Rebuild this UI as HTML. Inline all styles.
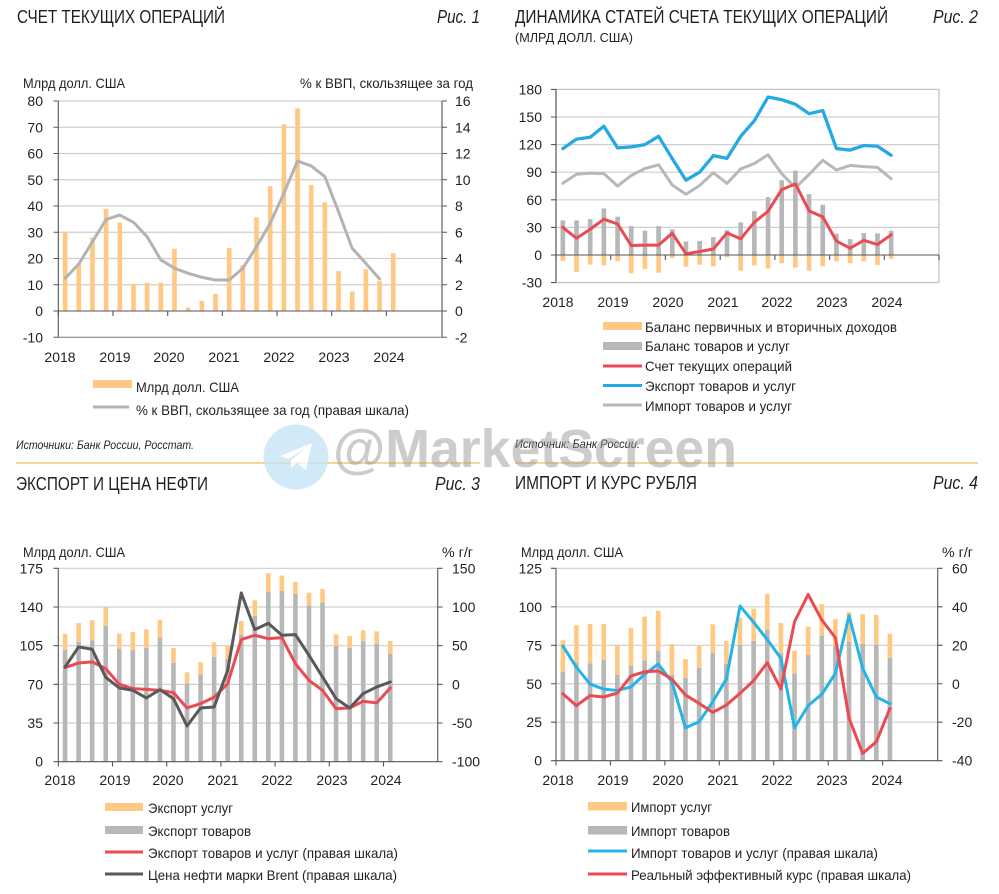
<!DOCTYPE html>
<html><head><meta charset="utf-8"><style>
html,body{margin:0;padding:0;background:#fff;}
svg{display:block;}
text{font-family:"Liberation Sans","Noto Sans CJK SC",sans-serif;fill:#231f20;}
.t{font-size:14px;}
.tt{font-family:"Liberation Sans Narrow","Liberation Sans",sans-serif;font-size:18px;}
.it{font-style:italic;}
.g{stroke:#cfcfcf;stroke-width:1.2;}
.ax{stroke:#555;stroke-width:1.1;fill:none;}
.ob{fill:#ffc983;}
.gb{fill:#b7b7b8;}
.ln{fill:none;stroke-linejoin:round;stroke-linecap:round;}
</style></head><body>
<svg width="999" height="894" viewBox="0 0 999 894" xmlns="http://www.w3.org/2000/svg">
<rect width="999" height="894" fill="#fff"/>

<!-- ================= TITLES ================= -->
<text class="tt" x="17" y="23" textLength="208" lengthAdjust="spacingAndGlyphs">СЧЕТ ТЕКУЩИХ ОПЕРАЦИЙ</text>
<text class="tt it" x="437" y="23" textLength="43" lengthAdjust="spacingAndGlyphs">Рис. 1</text>
<text class="tt" x="515" y="23" textLength="373" lengthAdjust="spacingAndGlyphs">ДИНАМИКА СТАТЕЙ СЧЕТА ТЕКУЩИХ ОПЕРАЦИЙ</text>
<text class="tt it" x="933" y="23" textLength="45" lengthAdjust="spacingAndGlyphs">Рис. 2</text>
<text x="515" y="42" style="font-family:'Liberation Sans Narrow','Liberation Sans',sans-serif;font-size:13px" textLength="118" lengthAdjust="spacingAndGlyphs">(МЛРД ДОЛЛ. США)</text>
<text class="tt" x="16" y="490" textLength="192" lengthAdjust="spacingAndGlyphs">ЭКСПОРТ И ЦЕНА НЕФТИ</text>
<text class="tt it" x="435" y="490" textLength="45" lengthAdjust="spacingAndGlyphs">Рис. 3</text>
<text class="tt" x="515" y="489" textLength="182" lengthAdjust="spacingAndGlyphs">ИМПОРТ И КУРС РУБЛЯ</text>
<text class="tt it" x="933" y="489" textLength="45" lengthAdjust="spacingAndGlyphs">Рис. 4</text>

<!-- sources & separators -->
<text class="it" x="16" y="449" style="font-size:11.5px" textLength="178" lengthAdjust="spacingAndGlyphs">Источники: Банк России, Росстат.</text>
<text class="it" x="515" y="448" style="font-size:11.5px" textLength="125" lengthAdjust="spacingAndGlyphs">Источник: Банк России.</text>
<line x1="16" y1="463" x2="480" y2="463" stroke="#f7c77a" stroke-width="1.5"/>
<line x1="515" y1="463" x2="978" y2="463" stroke="#f7c77a" stroke-width="1.5"/>

<!-- ================= CHART 1 ================= -->
<text class="t" x="23" y="88" textLength="102" lengthAdjust="spacingAndGlyphs">Млрд долл. США</text>
<text class="t" x="300" y="88" textLength="173" lengthAdjust="spacingAndGlyphs">% к ВВП, скользящее за год</text>
<g class="g">
<line x1="58.3" y1="101" x2="442" y2="101"/><line x1="58.3" y1="127.25" x2="442" y2="127.25"/>
<line x1="58.3" y1="153.5" x2="442" y2="153.5"/><line x1="58.3" y1="179.75" x2="442" y2="179.75"/>
<line x1="58.3" y1="206" x2="442" y2="206"/><line x1="58.3" y1="232.25" x2="442" y2="232.25"/>
<line x1="58.3" y1="258.5" x2="442" y2="258.5"/><line x1="58.3" y1="284.75" x2="442" y2="284.75"/>
</g>
<g transform="translate(58.3 311) scale(13.67 -2.625)" class="ob">
<rect x="0.33" y="0" width="0.34" height="30"/><rect x="1.33" y="0" width="0.34" height="18.2"/>
<rect x="2.33" y="0" width="0.34" height="28"/><rect x="3.33" y="0" width="0.34" height="38.9"/>
<rect x="4.33" y="0" width="0.34" height="33.7"/><rect x="5.33" y="0" width="0.34" height="10.3"/>
<rect x="6.33" y="0" width="0.34" height="10.8"/><rect x="7.33" y="0" width="0.34" height="10.8"/>
<rect x="8.33" y="0" width="0.34" height="23.7"/><rect x="9.33" y="0" width="0.34" height="1.3"/>
<rect x="10.33" y="0" width="0.34" height="3.8"/><rect x="11.33" y="0" width="0.34" height="6.5"/>
<rect x="12.33" y="0" width="0.34" height="24"/><rect x="13.33" y="0" width="0.34" height="17.5"/>
<rect x="14.33" y="0" width="0.34" height="35.7"/><rect x="15.33" y="0" width="0.34" height="47.5"/>
<rect x="16.33" y="0" width="0.34" height="71.1"/><rect x="17.33" y="0" width="0.34" height="77.2"/>
<rect x="18.33" y="0" width="0.34" height="48"/><rect x="19.33" y="0" width="0.34" height="41.4"/>
<rect x="20.33" y="0" width="0.34" height="15.2"/><rect x="21.33" y="0" width="0.34" height="7.4"/>
<rect x="22.33" y="0" width="0.34" height="15.9"/><rect x="23.33" y="0" width="0.34" height="11.4"/>
<rect x="24.33" y="0" width="0.34" height="22"/>
</g>
<g transform="translate(58.3 311) scale(13.67 -13.125)">
<polyline class="ln" vector-effect="non-scaling-stroke" stroke="#b3b3b3" stroke-width="3" points="0.5,2.49 1.5,3.58 2.5,5.28 3.5,6.98 4.5,7.31 5.5,6.76 6.5,5.66 7.5,3.89 8.5,3.26 9.5,2.87 10.5,2.57 11.5,2.36 12.5,2.36 13.5,3.26 14.5,4.9 15.5,6.68 16.5,8.97 17.5,11.43 18.5,11.05 19.5,10.23 20.5,7.57 21.5,4.77 22.5,3.63 23.5,2.44"/>
</g>
<g class="ax">
<line x1="58.3" y1="101" x2="58.3" y2="337.25"/><line x1="442" y1="101" x2="442" y2="337.25"/>
<line x1="58.3" y1="311" x2="442" y2="311"/><line x1="58.3" y1="337.25" x2="442" y2="337.25" stroke="#777"/>
<path d="M53.5 101H58.3M53.5 127.25H58.3M53.5 153.5H58.3M53.5 179.75H58.3M53.5 206H58.3M53.5 232.25H58.3M53.5 258.5H58.3M53.5 284.75H58.3M53.5 311H58.3M53.5 337.25H58.3"/>
<path d="M442 101H447M442 127.25H447M442 153.5H447M442 179.75H447M442 206H447M442 232.25H447M442 258.5H447M442 284.75H447M442 311H447M442 337.25H447"/>
<path d="M58.3 311V316M113 311V316M167.7 311V316M222.3 311V316M277 311V316M331.7 311V316M386.4 311V316"/>
</g>
<g class="t" text-anchor="end">
<text x="43" y="106">80</text><text x="43" y="132.25">70</text><text x="43" y="158.5">60</text>
<text x="43" y="184.75">50</text><text x="43" y="211">40</text><text x="43" y="237.25">30</text>
<text x="43" y="263.5">20</text><text x="43" y="289.75">10</text><text x="43" y="316">0</text>
<text x="43" y="342.25">-10</text>
</g>
<g class="t">
<text x="455" y="106">16</text><text x="455" y="132.25">14</text><text x="455" y="158.5">12</text>
<text x="455" y="184.75">10</text><text x="455" y="211">8</text><text x="455" y="237.25">6</text>
<text x="455" y="263.5">4</text><text x="455" y="289.75">2</text><text x="455" y="316">0</text>
<text x="455" y="342.25">-2</text>
</g>
<g class="t" text-anchor="middle">
<text x="60" y="362">2018</text><text x="115" y="362">2019</text><text x="169" y="362">2020</text>
<text x="224" y="362">2021</text><text x="279" y="362">2022</text><text x="334" y="362">2023</text>
<text x="389" y="362">2024</text>
</g>
<rect x="93" y="380" width="39" height="8" class="ob"/>
<line x1="93" y1="407" x2="129" y2="407" stroke="#b3b3b3" stroke-width="3"/>
<text class="t" x="136" y="392" textLength="103" lengthAdjust="spacingAndGlyphs">Млрд долл. США</text>
<text class="t" x="136" y="415" textLength="273" lengthAdjust="spacingAndGlyphs">% к ВВП, скользящее за год (правая шкала)</text>

<!-- ================= CHART 2 ================= -->
<g class="g">
<line x1="556" y1="117" x2="939" y2="117"/><line x1="556" y1="144.6" x2="939" y2="144.6"/>
<line x1="556" y1="172.2" x2="939" y2="172.2"/><line x1="556" y1="199.8" x2="939" y2="199.8"/>
<line x1="556" y1="227.4" x2="939" y2="227.4"/>
</g>
<rect x="556" y="89.4" width="383" height="193.2" fill="none" stroke="#c4c4c4" stroke-width="1.3"/>
<g transform="translate(556 255) scale(13.68 -0.92)">
<g class="gb">
<rect x="0.33" y="0" width="0.34" height="37.6"/><rect x="1.33" y="0" width="0.34" height="37.6"/>
<rect x="2.33" y="0" width="0.34" height="39"/><rect x="3.33" y="0" width="0.34" height="50.6"/>
<rect x="4.33" y="0" width="0.34" height="41.6"/><rect x="5.33" y="0" width="0.34" height="31.4"/>
<rect x="6.33" y="0" width="0.34" height="26.4"/><rect x="7.33" y="0" width="0.34" height="31.4"/>
<rect x="8.33" y="0" width="0.34" height="27.8"/><rect x="9.33" y="0" width="0.34" height="14.8"/>
<rect x="10.33" y="0" width="0.34" height="15.2"/><rect x="11.33" y="0" width="0.34" height="19.5"/>
<rect x="12.33" y="0" width="0.34" height="27"/><rect x="13.33" y="0" width="0.34" height="35.4"/>
<rect x="14.33" y="0" width="0.34" height="47.7"/><rect x="15.33" y="0" width="0.34" height="62.9"/>
<rect x="16.33" y="0" width="0.34" height="81.3"/><rect x="17.33" y="0" width="0.34" height="91.8"/>
<rect x="18.33" y="0" width="0.34" height="66.1"/><rect x="19.33" y="0" width="0.34" height="54.6"/>
<rect x="20.33" y="0" width="0.34" height="23"/><rect x="21.33" y="0" width="0.34" height="17.3"/>
<rect x="22.33" y="0" width="0.34" height="23.9"/><rect x="23.33" y="0" width="0.34" height="23.5"/>
<rect x="24.33" y="0" width="0.34" height="26.4"/>
</g>
<g class="ob">
<rect x="0.33" y="-6.5" width="0.34" height="6.5"/><rect x="1.33" y="-18.4" width="0.34" height="18.4"/>
<rect x="2.33" y="-10.5" width="0.34" height="10.5"/><rect x="3.33" y="-11.2" width="0.34" height="11.2"/>
<rect x="4.33" y="-6.9" width="0.34" height="6.9"/><rect x="5.33" y="-19.9" width="0.34" height="19.9"/>
<rect x="6.33" y="-15.2" width="0.34" height="15.2"/><rect x="7.33" y="-19.2" width="0.34" height="19.2"/>
<rect x="8.33" y="-3.3" width="0.34" height="3.3"/><rect x="9.33" y="-12.6" width="0.34" height="12.6"/>
<rect x="10.33" y="-10.5" width="0.34" height="10.5"/><rect x="11.33" y="-12.3" width="0.34" height="12.3"/>
<rect x="12.33" y="-2.5" width="0.34" height="2.5"/><rect x="13.33" y="-17" width="0.34" height="17"/>
<rect x="14.33" y="-11.2" width="0.34" height="11.2"/><rect x="15.33" y="-14.8" width="0.34" height="14.8"/>
<rect x="16.33" y="-9" width="0.34" height="9"/><rect x="17.33" y="-13.7" width="0.34" height="13.7"/>
<rect x="18.33" y="-17" width="0.34" height="17"/><rect x="19.33" y="-12.3" width="0.34" height="12.3"/>
<rect x="20.33" y="-6.9" width="0.34" height="6.9"/><rect x="21.33" y="-9" width="0.34" height="9"/>
<rect x="22.33" y="-6.9" width="0.34" height="6.9"/><rect x="23.33" y="-10.8" width="0.34" height="10.8"/>
<rect x="24.33" y="-4.3" width="0.34" height="4.3"/>
</g>
<polyline class="ln" vector-effect="non-scaling-stroke" stroke="#b8b8b8" stroke-width="3" points="0.5,78 1.5,87.8 2.5,89 3.5,88.4 4.5,75 5.5,86.4 6.5,94 7.5,98 8.5,76 9.5,66 10.5,75.6 11.5,89.4 12.5,77.8 13.5,93.6 14.5,99.4 15.5,109 16.5,88.4 17.5,73.2 18.5,87.5 19.5,103 20.5,92.4 21.5,97.4 22.5,96 23.5,95.2 24.5,82.8"/>
<polyline class="ln" vector-effect="non-scaling-stroke" stroke="#ec4a52" stroke-width="3" points="0.5,30 1.5,18.2 2.5,28 3.5,38.9 4.5,33.7 5.5,10.3 6.5,10.8 7.5,10.8 8.5,23.7 9.5,1.3 10.5,3.8 11.5,6.5 12.5,24 13.5,17.5 14.5,35.7 15.5,47.5 16.5,71.1 17.5,77.2 18.5,48 19.5,41.4 20.5,15.2 21.5,7.4 22.5,15.9 23.5,11.4 24.5,22"/>
<polyline class="ln" vector-effect="non-scaling-stroke" stroke="#24aae2" stroke-width="3.3" points="0.5,115.6 1.5,126 2.5,128 3.5,140 4.5,116.4 5.5,117.5 6.5,120 7.5,129 8.5,104.8 9.5,81.3 10.5,90 11.5,108 12.5,105 13.5,129 14.5,146 15.5,171.7 16.5,168.8 17.5,163.8 18.5,153.6 19.5,157 20.5,115.7 21.5,114 22.5,119 23.5,118.2 24.5,108.4"/>
</g>
<g class="ax">
<line x1="556" y1="89.4" x2="556" y2="282.6"/>
<line x1="556" y1="255" x2="939" y2="255"/>
<path d="M551 89.4H556M551 117H556M551 144.6H556M551 172.2H556M551 199.8H556M551 227.4H556M551 255H556M551 282.6H556"/>
<path d="M556 255V260M610.7 255V260M665.4 255V260M720.2 255V260M774.9 255V260M829.6 255V260M884.3 255V260M939 255V260"/>
</g>
<g class="t" text-anchor="end">
<text x="542" y="94.4">180</text><text x="542" y="122">150</text><text x="542" y="149.6">120</text>
<text x="542" y="177.2">90</text><text x="542" y="204.8">60</text><text x="542" y="232.4">30</text>
<text x="542" y="260">0</text><text x="542" y="287.6">-30</text>
</g>
<g class="t" text-anchor="middle">
<text x="558" y="307">2018</text><text x="613" y="307">2019</text><text x="668" y="307">2020</text>
<text x="723" y="307">2021</text><text x="777" y="307">2022</text><text x="832" y="307">2023</text>
<text x="887" y="307">2024</text>
</g>
<rect x="603" y="322" width="39" height="8" class="ob"/>
<rect x="603" y="342" width="39" height="8" class="gb"/>
<line x1="603" y1="366" x2="642" y2="366" stroke="#ec4a52" stroke-width="3"/>
<line x1="603" y1="385.5" x2="642" y2="385.5" stroke="#24aae2" stroke-width="3"/>
<line x1="603" y1="405" x2="642" y2="405" stroke="#b8b8b8" stroke-width="3"/>
<text class="t" x="645" y="332" textLength="252" lengthAdjust="spacingAndGlyphs">Баланс первичных и вторичных доходов</text>
<text class="t" x="645" y="351" textLength="145" lengthAdjust="spacingAndGlyphs">Баланс товаров и услуг</text>
<text class="t" x="645" y="371" textLength="147" lengthAdjust="spacingAndGlyphs">Счет текущих операций</text>
<text class="t" x="645" y="391" textLength="151" lengthAdjust="spacingAndGlyphs">Экспорт товаров и услуг</text>
<text class="t" x="645" y="411" textLength="147" lengthAdjust="spacingAndGlyphs">Импорт товаров и услуг</text>

<!-- ================= CHART 3 ================= -->
<text class="t" x="23" y="557" textLength="102" lengthAdjust="spacingAndGlyphs">Млрд долл. США</text>
<text class="t" x="442" y="557" textLength="31" lengthAdjust="spacingAndGlyphs">% г/г</text>
<g class="g">
<line x1="58.3" y1="568.3" x2="437.7" y2="568.3"/><line x1="58.3" y1="607" x2="437.7" y2="607"/>
<line x1="58.3" y1="645.7" x2="437.7" y2="645.7"/><line x1="58.3" y1="684.35" x2="437.7" y2="684.35"/>
<line x1="58.3" y1="723" x2="437.7" y2="723"/>
</g>
<g transform="translate(58.3 761.7) scale(13.55 -1.105)">
<g class="gb">
<rect x="0.33" y="0" width="0.34" height="101"/><rect x="1.33" y="0" width="0.34" height="108.6"/>
<rect x="2.33" y="0" width="0.34" height="110"/><rect x="3.33" y="0" width="0.34" height="123"/>
<rect x="4.33" y="0" width="0.34" height="102"/><rect x="5.33" y="0" width="0.34" height="101"/>
<rect x="6.33" y="0" width="0.34" height="103"/><rect x="7.33" y="0" width="0.34" height="112.3"/>
<rect x="8.33" y="0" width="0.34" height="89.6"/><rect x="9.33" y="0" width="0.34" height="70.6"/>
<rect x="10.33" y="0" width="0.34" height="78.8"/><rect x="11.33" y="0" width="0.34" height="94.8"/>
<rect x="12.33" y="0" width="0.34" height="93"/><rect x="13.33" y="0" width="0.34" height="115"/>
<rect x="14.33" y="0" width="0.34" height="132"/><rect x="15.33" y="0" width="0.34" height="153.6"/>
<rect x="16.33" y="0" width="0.34" height="154.5"/><rect x="17.33" y="0" width="0.34" height="151.8"/>
<rect x="18.33" y="0" width="0.34" height="141.5"/><rect x="19.33" y="0" width="0.34" height="144"/>
<rect x="20.33" y="0" width="0.34" height="105"/><rect x="21.33" y="0" width="0.34" height="103"/>
<rect x="22.33" y="0" width="0.34" height="109"/><rect x="23.33" y="0" width="0.34" height="106.5"/>
<rect x="24.33" y="0" width="0.34" height="97.8"/>
</g>
<g class="ob">
<rect x="0.33" y="101" width="0.34" height="14.6"/><rect x="1.33" y="108.6" width="0.34" height="16.9"/>
<rect x="2.33" y="110" width="0.34" height="18"/><rect x="3.33" y="123" width="0.34" height="17"/>
<rect x="4.33" y="102" width="0.34" height="14"/><rect x="5.33" y="101" width="0.34" height="16.4"/>
<rect x="6.33" y="103" width="0.34" height="16.8"/><rect x="7.33" y="112.3" width="0.34" height="15.9"/>
<rect x="8.33" y="89.6" width="0.34" height="13.4"/><rect x="9.33" y="70.6" width="0.34" height="10.3"/>
<rect x="10.33" y="78.8" width="0.34" height="11.2"/><rect x="11.33" y="94.8" width="0.34" height="13.2"/>
<rect x="12.33" y="93" width="0.34" height="11.7"/><rect x="13.33" y="115" width="0.34" height="12.3"/>
<rect x="14.33" y="132" width="0.34" height="14"/><rect x="15.33" y="153.6" width="0.34" height="16.9"/>
<rect x="16.33" y="154.5" width="0.34" height="13.9"/><rect x="17.33" y="151.8" width="0.34" height="10.8"/>
<rect x="18.33" y="141.5" width="0.34" height="11.5"/><rect x="19.33" y="144" width="0.34" height="12.3"/>
<rect x="20.33" y="105" width="0.34" height="10.3"/><rect x="21.33" y="103" width="0.34" height="10.8"/>
<rect x="22.33" y="109" width="0.34" height="10"/><rect x="23.33" y="106.5" width="0.34" height="11.5"/>
<rect x="24.33" y="97.8" width="0.34" height="11.4"/>
</g>
</g>
<g transform="translate(58.3 684.3) scale(13.55 -0.7735)">
<polyline class="ln" vector-effect="non-scaling-stroke" stroke="#ec4a52" stroke-width="3" points="0.5,21.6 1.5,27.6 2.5,29 3.5,20.3 4.5,0 5.5,-5.6 6.5,-6.5 7.5,-7.8 8.5,-10.8 9.5,-30.6 10.5,-25 11.5,-16.8 12.5,0.9 13.5,57.8 14.5,63.4 15.5,59 16.5,60.3 17.5,26.7 18.5,5.2 19.5,-7.8 20.5,-31.5 21.5,-30.6 22.5,-22 23.5,-24 24.5,-4.7"/>
<polyline class="ln" vector-effect="non-scaling-stroke" stroke="#595959" stroke-width="3" points="0.5,22.4 1.5,48.3 2.5,45.3 3.5,9 4.5,-4.7 5.5,-7.8 6.5,-17.7 7.5,-6.9 8.5,-18.5 9.5,-53.9 10.5,-30.6 11.5,-29.3 12.5,18.1 13.5,118.1 14.5,70.7 15.5,78.9 16.5,63.4 17.5,64.2 18.5,37.5 19.5,9.5 20.5,-18.5 21.5,-30.6 22.5,-12 23.5,-3.4 24.5,3"/>
</g>
<g class="ax">
<line x1="58.3" y1="568.3" x2="58.3" y2="761.7"/><line x1="437.7" y1="568.3" x2="437.7" y2="761.7"/>
<line x1="58.3" y1="761.7" x2="437.7" y2="761.7"/>
<path d="M53.5 568.3H58.3M53.5 607H58.3M53.5 645.7H58.3M53.5 684.35H58.3M53.5 723H58.3M53.5 761.7H58.3"/>
<path d="M437.7 568.3H442.5M437.7 607H442.5M437.7 645.7H442.5M437.7 684.35H442.5M437.7 723H442.5M437.7 761.7H442.5"/>
<path d="M58.3 761.7V766.5M112.5 761.7V766.5M166.7 761.7V766.5M220.9 761.7V766.5M275.1 761.7V766.5M329.3 761.7V766.5M383.5 761.7V766.5"/>
</g>
<g class="t" text-anchor="end">
<text x="43" y="573.3">175</text><text x="43" y="612">140</text><text x="43" y="650.7">105</text>
<text x="43" y="689.35">70</text><text x="43" y="728">35</text><text x="43" y="766.7">0</text>
</g>
<g class="t">
<text x="452" y="573.3">150</text><text x="452" y="612">100</text><text x="452" y="650.7">50</text>
<text x="452" y="689.35">0</text><text x="452" y="728">-50</text><text x="452" y="766.7">-100</text>
</g>
<g class="t" text-anchor="middle">
<text x="60" y="785">2018</text><text x="115" y="785">2019</text><text x="168" y="785">2020</text>
<text x="223" y="785">2021</text><text x="277" y="785">2022</text><text x="332" y="785">2023</text>
<text x="386" y="785">2024</text>
</g>
<rect x="105" y="803" width="38" height="8" class="ob"/>
<rect x="105" y="826" width="38" height="8" class="gb"/>
<line x1="105" y1="852" x2="143" y2="852" stroke="#ec4a52" stroke-width="3"/>
<line x1="105" y1="874" x2="143" y2="874" stroke="#595959" stroke-width="3"/>
<text class="t" x="148" y="813" textLength="85" lengthAdjust="spacingAndGlyphs">Экспорт услуг</text>
<text class="t" x="148" y="836" textLength="103" lengthAdjust="spacingAndGlyphs">Экспорт товаров</text>
<text class="t" x="148" y="858" textLength="250" lengthAdjust="spacingAndGlyphs">Экспорт товаров и услуг (правая шкала)</text>
<text class="t" x="148" y="880" textLength="249" lengthAdjust="spacingAndGlyphs">Цена нефти марки Brent (правая шкала)</text>

<!-- ================= CHART 4 ================= -->
<text class="t" x="521" y="557" textLength="102" lengthAdjust="spacingAndGlyphs">Млрд долл. США</text>
<text class="t" x="942" y="557" textLength="31" lengthAdjust="spacingAndGlyphs">% г/г</text>
<g class="g">
<line x1="556" y1="568.3" x2="937.7" y2="568.3"/><line x1="556" y1="606.8" x2="937.7" y2="606.8"/>
<line x1="556" y1="645.3" x2="937.7" y2="645.3"/><line x1="556" y1="683.75" x2="937.7" y2="683.75"/>
<line x1="556" y1="722.2" x2="937.7" y2="722.2"/>
</g>
<g transform="translate(556 760.7) scale(13.63 -1.539)">
<g class="gb">
<rect x="0.33" y="0" width="0.34" height="57.8"/><rect x="1.33" y="0" width="0.34" height="63.7"/>
<rect x="2.33" y="0" width="0.34" height="63.3"/><rect x="3.33" y="0" width="0.34" height="65.4"/>
<rect x="4.33" y="0" width="0.34" height="55.7"/><rect x="5.33" y="0" width="0.34" height="61.7"/>
<rect x="6.33" y="0" width="0.34" height="65.2"/><rect x="7.33" y="0" width="0.34" height="71.5"/>
<rect x="8.33" y="0" width="0.34" height="55.9"/><rect x="9.33" y="0" width="0.34" height="53.9"/>
<rect x="10.33" y="0" width="0.34" height="60.4"/><rect x="11.33" y="0" width="0.34" height="70.2"/>
<rect x="12.33" y="0" width="0.34" height="63"/><rect x="13.33" y="0" width="0.34" height="75.2"/>
<rect x="14.33" y="0" width="0.34" height="77.8"/><rect x="15.33" y="0" width="0.34" height="85.1"/>
<rect x="16.33" y="0" width="0.34" height="69.8"/><rect x="17.33" y="0" width="0.34" height="56.8"/>
<rect x="18.33" y="0" width="0.34" height="68.7"/><rect x="19.33" y="0" width="0.34" height="81.2"/>
<rect x="20.33" y="0" width="0.34" height="74.5"/><rect x="21.33" y="0" width="0.34" height="77.3"/>
<rect x="22.33" y="0" width="0.34" height="75.8"/><rect x="23.33" y="0" width="0.34" height="75.4"/>
<rect x="24.33" y="0" width="0.34" height="66.9"/>
</g>
<g class="ob">
<rect x="0.33" y="57.8" width="0.34" height="20.4"/><rect x="1.33" y="63.7" width="0.34" height="24.3"/>
<rect x="2.33" y="63.3" width="0.34" height="25.5"/><rect x="3.33" y="65.4" width="0.34" height="23.4"/>
<rect x="4.33" y="55.7" width="0.34" height="19.5"/><rect x="5.33" y="61.7" width="0.34" height="24.5"/>
<rect x="6.33" y="65.2" width="0.34" height="28.4"/><rect x="7.33" y="71.5" width="0.34" height="26"/>
<rect x="8.33" y="55.9" width="0.34" height="19.9"/><rect x="9.33" y="53.9" width="0.34" height="12.1"/>
<rect x="10.33" y="60.4" width="0.34" height="14.3"/><rect x="11.33" y="70.2" width="0.34" height="18.4"/>
<rect x="12.33" y="63" width="0.34" height="14.8"/><rect x="13.33" y="75.2" width="0.34" height="17.7"/>
<rect x="14.33" y="77.8" width="0.34" height="21"/><rect x="15.33" y="85.1" width="0.34" height="23.2"/>
<rect x="16.33" y="69.8" width="0.34" height="19.7"/><rect x="17.33" y="56.8" width="0.34" height="14.7"/>
<rect x="18.33" y="68.7" width="0.34" height="18.4"/><rect x="19.33" y="81.2" width="0.34" height="20.6"/>
<rect x="20.33" y="74.5" width="0.34" height="17.5"/><rect x="21.33" y="77.3" width="0.34" height="19.3"/>
<rect x="22.33" y="75.8" width="0.34" height="19.5"/><rect x="23.33" y="75.4" width="0.34" height="19.3"/>
<rect x="24.33" y="66.9" width="0.34" height="15.6"/>
</g>
</g>
<g transform="translate(556 683.7) scale(13.63 -1.924)">
<polyline class="ln" vector-effect="non-scaling-stroke" stroke="#24b4e8" stroke-width="3" points="0.5,19.6 1.5,8.5 2.5,-0.2 3.5,-2.8 4.5,-3.5 5.5,-1.7 6.5,4.9 7.5,10.2 8.5,1 9.5,-22.9 10.5,-19.8 11.5,-9.4 12.5,2.4 13.5,40.4 14.5,31.9 15.5,22.9 16.5,13.2 17.5,-22.9 18.5,-11.4 19.5,-5.5 20.5,5.4 21.5,35.4 22.5,8 23.5,-6.9 24.5,-10.4"/>
<polyline class="ln" vector-effect="non-scaling-stroke" stroke="#ec4a52" stroke-width="3" points="0.5,-5.2 1.5,-11.4 2.5,-6.2 3.5,-6.9 4.5,-4.9 5.5,4 6.5,6.2 7.5,6.6 8.5,2.4 9.5,-5.9 10.5,-10.2 11.5,-14.9 12.5,-11.1 13.5,-5 14.5,1.6 15.5,10.9 16.5,-2.8 17.5,32.2 18.5,46.4 19.5,33.1 20.5,23.9 21.5,-18 22.5,-36.2 23.5,-30.2 24.5,-12.8"/>
</g>
<g class="ax">
<line x1="556" y1="568.3" x2="556" y2="760.7"/><line x1="937.7" y1="568.3" x2="937.7" y2="760.7"/>
<line x1="556" y1="760.7" x2="937.7" y2="760.7"/>
<path d="M551 568.3H556M551 606.8H556M551 645.3H556M551 683.75H556M551 722.2H556M551 760.7H556"/>
<path d="M937.7 568.3H942.5M937.7 606.8H942.5M937.7 645.3H942.5M937.7 683.75H942.5M937.7 722.2H942.5M937.7 760.7H942.5"/>
<path d="M556 760.7V765.5M610.4 760.7V765.5M664.9 760.7V765.5M719.3 760.7V765.5M773.7 760.7V765.5M828.2 760.7V765.5M882.6 760.7V765.5"/>
</g>
<g class="t" text-anchor="end">
<text x="542" y="573.3">125</text><text x="542" y="611.8">100</text><text x="542" y="650.3">75</text>
<text x="542" y="688.75">50</text><text x="542" y="727.2">25</text><text x="542" y="765.7">0</text>
</g>
<g class="t">
<text x="952" y="573.3">60</text><text x="952" y="611.8">40</text><text x="952" y="650.3">20</text>
<text x="952" y="688.75">0</text><text x="952" y="727.2">-20</text><text x="952" y="765.7">-40</text>
</g>
<g class="t" text-anchor="middle">
<text x="558" y="785">2018</text><text x="613" y="785">2019</text><text x="668" y="785">2020</text>
<text x="723" y="785">2021</text><text x="777" y="785">2022</text><text x="832" y="785">2023</text>
<text x="887" y="785">2024</text>
</g>
<rect x="588" y="802" width="39" height="8.5" class="ob"/>
<rect x="588" y="826" width="39" height="8.5" class="gb"/>
<line x1="588" y1="851" x2="627" y2="851" stroke="#24b4e8" stroke-width="3"/>
<line x1="588" y1="874" x2="627" y2="874" stroke="#ec4a52" stroke-width="3"/>
<text class="t" x="631" y="812" textLength="81" lengthAdjust="spacingAndGlyphs">Импорт услуг</text>
<text class="t" x="631" y="836" textLength="99" lengthAdjust="spacingAndGlyphs">Импорт товаров</text>
<text class="t" x="631" y="858" textLength="247" lengthAdjust="spacingAndGlyphs">Импорт товаров и услуг (правая шкала)</text>
<text class="t" x="631" y="880" textLength="280" lengthAdjust="spacingAndGlyphs">Реальный эффективный курс (правая шкала)</text>

<!-- ================= WATERMARK ================= -->
<g opacity="0.75">
<circle cx="296" cy="457" r="32.5" fill="#c4e2f6"/>
<path d="M280 456 L312 443 L306 470 L297 463 L291 468 L291 460 L306 448 L288 459 Z" fill="#fff"/>
</g>
<text x="333" y="467" style="font-size:54px;font-weight:bold;fill:#9a9a9a;" opacity="0.5" textLength="404" lengthAdjust="spacingAndGlyphs">@MarketScreen</text>
</svg>
</body></html>
